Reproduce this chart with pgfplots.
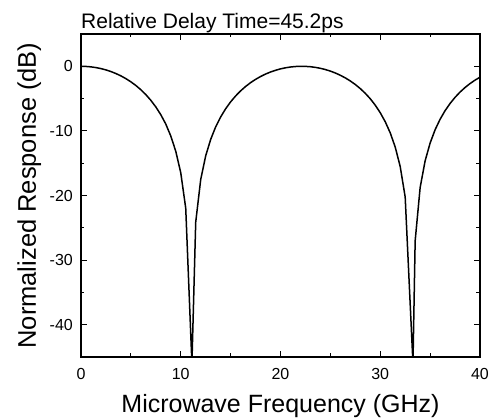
\documentclass[border=0pt]{standalone}
\usepackage{fontspec}
\setmainfont{Liberation Sans}
\usepackage{pgfplots}
\usepackage{pgfplotstable}
\pgfplotsset{compat=1.18}

% normalized response (GHz, dB)
\pgfplotstableread{
f db
0 0
0.5 -0.022
1 -0.088
1.5 -0.199
2 -0.355
2.5 -0.559
3 -0.813
3.5 -1.120
4 -1.483
4.5 -1.909
5 -2.403
5.5 -2.972
6 -3.629
6.5 -4.386
7 -5.263
7.5 -6.287
8 -7.493
8.5 -8.940
9 -10.79
9.5 -13.15
10 -16.47
10.5 -21.97
11.12 -46
11.5 -24.13
12 -17.54
12.5 -13.86
13 -11.32
13.5 -9.387
14 -7.846
14.5 -6.575
15 -5.506
15.5 -4.593
16 -3.806
16.5 -3.126
17 -2.535
17.5 -2.023
18 -1.582
18.5 -1.204
19 -0.885
19.5 -0.620
20 -0.401
20.5 -0.233
21 -0.111
21.5 -0.034
22 -0.001
22.5 -0.012
23 -0.067
23.5 -0.167
24 -0.312
24.5 -0.504
25 -0.745
25.5 -1.039
26 -1.388
26.5 -1.798
27 -2.273
27.5 -2.822
28 -3.455
28.5 -4.183
29 -5.026
29.5 -6.019
30 -7.188
30.5 -8.584
31 -10.30
31.5 -12.50
32 -15.51
32.5 -20.24
33.28 -46
33.5 -27.02
34 -18.76
34.5 -14.63
35 -11.88
35.5 -9.823
36 -8.200
36.5 -6.869
37 -5.754
37.5 -4.806
38 -3.991
38.5 -3.285
39 -2.673
39.5 -2.143
40 -1.690
}\resp

\begin{document}
\begin{tikzpicture}
  \begin{axis}[
      scale only axis,
      width=399pt,
      height=323pt,
      xmin=0, xmax=40,
      ymin=-45, ymax=5,
      xtick={0,10,20,30,40},
      ytick={-40,-30,-20,-10,0},
      minor x tick num=1,
      minor y tick num=1,
      tick align=inside,
      major tick length=6pt,
      minor tick length=3.5pt,
      tick style={black, line width=1pt},
      axis line style={line width=1.4pt},
      /pgf/number format/assume math mode=true,
      ticklabel style={font=\fontsize{16}{19}\selectfont, inner sep=0pt},
      xticklabel style={anchor=north, yshift=-11pt},
      yticklabel style={anchor=east, xshift=-8pt},
      xlabel={Microwave Frequency (GHz)},
      ylabel={Normalized Response (dB)},
      xlabel style={font=\fontsize{25}{30}\selectfont,
        at={(axis description cs:0.5,-0.1703)}, anchor=base},
      ylabel style={font=\fontsize{25.5}{30}\selectfont,
        at={(axis description cs:-0.1128,0.5)}, anchor=base},
      every axis title shift=0pt,
      title={Relative Delay Time=45.2ps},
      title style={font=\fontsize{21}{25}\selectfont,
        at={(axis description cs:0,1)}, anchor=base west, yshift=5pt, inner sep=0pt},
    ]
    \addplot[black, line width=1.5pt] table[x=f, y=db] {\resp};
  \end{axis}
  \pgfresetboundingbox
  \path (-81pt,-63pt) rectangle (410pt,357pt);
\end{tikzpicture}
\end{document}
